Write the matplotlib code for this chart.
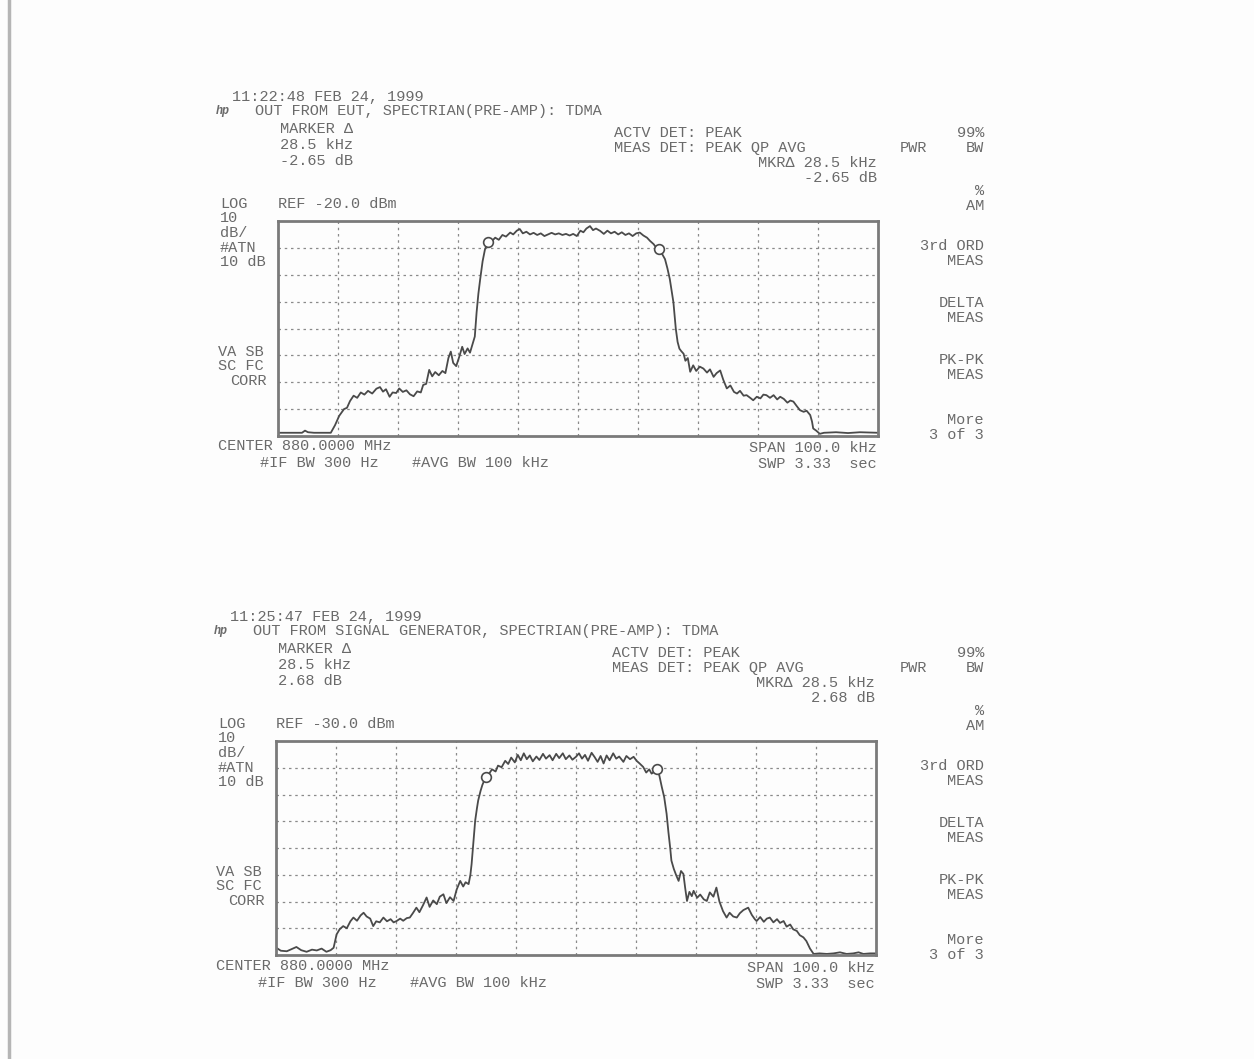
import matplotlib
matplotlib.use("Agg")
import matplotlib.pyplot as plt
from matplotlib.lines import Line2D

# screen dump of two spectrum analyser plots (HP, 1999)
W, H = 1254, 1059
MONO = "Liberation Mono"
TXT = "#6a6a6a"
FS = 11

# --- trace 1: out from EUT, ref -20 dBm ---
top_freq = [-50, -46, -45.5, -45, -44, -41.2, -40.5, -39.8, -39, -38.5, -38, -37.4, -36.8, -36.2,
            -35.6, -35, -34.3, -33.6, -33, -32.5, -32, -31.4, -30.9, -30.3, -29.8, -29.2, -28.6,
            -28, -27.4, -26.8, -26.2, -25.8, -25.3, -24.8, -24.3, -23.8, -23.2, -22.6, -22.1,
            -21.6, -21.2, -20.8, -20.3, -19.8, -19.3, -18.9, -18.4, -18, -17.6, -17.2, -16.9,
            -16.6, -16.3, -15.9, -15.5, -15.0, -14.4, -13.8, -13.2, -12.6, -12, -11.3, -10.8,
            -10.2, -9.7, -9.2, -8.6, -8, -7.4, -6.8, -6.2, -5.6, -5, -4.4, -3.8, -3.2, -2.6, -2,
            -1.4, -0.8, -0.2, 0.4, 0.9, 1.4, 2.0, 2.5, 3.0, 3.7, 4.3, 4.9, 5.5, 6.1, 6.7, 7.3,
            7.9, 8.5, 9.1, 9.7, 10.3, 10.9, 11.5, 12.0, 12.6, 13.0, 13.5, 14.0, 14.5, 14.9, 15.3,
            15.6, 15.9, 16.1, 16.3, 16.6, 16.9, 17.2, 17.6, 17.9, 18.3, 18.7, 19.2, 19.7, 20.3,
            20.9, 21.5, 22.0, 22.6, 23.1, 23.7, 24.2, 24.8, 25.4, 26.0, 26.5, 27.0, 27.6, 28.1,
            28.7, 29.2, 29.8, 30.4, 30.9, 31.4, 32.0, 32.6, 33.2, 33.7, 34.3, 34.9, 35.4, 35.9,
            36.5, 37.0, 37.6, 38.1, 38.7, 39.0, 39.2, 39.7, 40.3, 41, 43, 45, 47, 50]
top_level = [-98.8, -98.8, -98.0, -98.6, -98.8, -98.8, -96, -92.5, -90, -89.5, -87, -85, -85.8,
             -83.8, -84.6, -83.2, -84.2, -82.4, -81.8, -83.5, -82.6, -85.4, -83.8, -84, -82.3,
             -83.6, -83, -84.5, -85.2, -83.4, -83.8, -81, -80.6, -75.4, -77.8, -76.2, -77.4,
             -75.8, -76.6, -71, -68.6, -72.8, -74, -70.6, -66.8, -69.5, -67.4, -69, -66, -63,
             -54, -47, -41.6, -35, -30.5, -28.0, -27.6, -26.2, -27, -25.2, -25.8, -24.3, -25,
             -23.6, -23, -24.6, -24, -25, -24.4, -25.2, -24.6, -25.6, -25, -24.4, -25, -24.6,
             -25.2, -24.8, -25.4, -24.8, -25.6, -23.6, -24.2, -22.8, -21.9, -23.4, -22.8, -23.7,
             -24.8, -23.6, -24.6, -24.0, -25.0, -24.2, -25.2, -24.6, -25.6, -24.6, -24.3, -25.4,
             -26.2, -27.4, -28.6, -29.8, -30.6, -32.2, -34.2, -37.6, -41.6, -46, -50.2, -55,
             -60.1, -65, -67.5, -68.4, -69.4, -72, -71, -76.1, -73.7, -75.8, -74.2, -74.9, -76.4,
             -75.2, -78, -76.6, -75.6, -79, -82.3, -81.2, -83.6, -84.2, -83.2, -85, -84.8, -85.8,
             -86.7, -85.4, -86, -84.6, -84.8, -85.8, -84.8, -86.4, -85.4, -86.2, -87.6, -86.8,
             -87.2, -89, -90.4, -91, -90.6, -92.2, -94.6, -97.2, -98, -99.2, -98.8, -98.6, -98.9,
             -98.6, -98.8]
top_mkr_freq = [-15.0, 13.5]
top_mkr_level = [-28.0, -30.6]

# --- trace 2: out from signal generator, ref -30 dBm ---
bot_freq = [-50, -49.2, -48.2, -47.4, -46.6, -45.8, -44.9, -44, -43.2, -42.4, -41.6, -40.9, -40.4,
            -39.9, -39.4, -38.8, -38.2, -37.6, -37.1, -36.5, -35.9, -35.4, -34.9, -34.3, -33.8,
            -33.3, -32.7, -32.1, -31.5, -30.9, -30.4, -29.9, -29.3, -28.8, -28.2, -27.7, -27.2,
            -26.6, -26.1, -25.5, -24.9, -24.4, -23.8, -23.2, -22.7, -22.1, -21.6, -21.0, -20.4,
            -19.9, -19.3, -18.8, -18.4, -17.9, -17.6, -17.4, -17.1, -16.8, -16.5, -16.3, -15.9,
            -15.6, -15.0, -14.6, -14.0, -13.4, -13.0, -12.4, -11.8, -11.3, -10.8, -10.2, -9.7,
            -9.2, -8.7, -8.2, -7.7, -7.2, -6.6, -6.1, -5.5, -5.0, -4.4, -3.9, -3.3, -2.8, -2.2,
            -1.7, -1.1, -0.6, 0.0, 0.5, 1.0, 1.5, 2.0, 2.6, 3.1, 3.6, 4.1, 4.6, 5.1, 5.6, 6.2,
            6.7, 7.2, 7.9, 8.4, 9.0, 9.6, 10.1, 10.6, 11.2, 11.7, 12.2, 12.6, 13.1, 13.5, 13.9,
            14.3, 14.7, 15.1, 15.4, 15.7, 15.9, 16.3, 16.7, 17.1, 17.5, 17.9, 18.2, 18.5, 18.9,
            19.3, 19.6, 20.2, 20.7, 21.3, 21.8, 22.3, 22.9, 23.4, 23.9, 24.5, 25.1, 25.6, 26.2,
            26.8, 27.3, 27.9, 28.7, 29.3, 29.8, 30.1, 30.7, 31.3, 31.8, 32.3, 32.9, 33.5, 34.0,
            34.6, 35.1, 35.7, 36.2, 36.8, 37.3, 37.9, 38.4, 39.0, 39.6, 40.6, 41.8, 42.9, 44,
            45.1, 46.2, 47.1, 47.9, 49, 50]
bot_level = [-107.2, -108.4, -108.6, -107.8, -107, -108.2, -108.8, -108, -108.3, -107.6, -108.8,
             -108.2, -107.3, -102.3, -100.4, -99.2, -100, -97.4, -96, -97.2, -95.2, -94.2, -95.6,
             -96.4, -99.2, -97.4, -97.8, -96, -97.4, -96.6, -97.8, -97.3, -96.4, -97.2, -96.2,
             -96, -94.4, -92.3, -94, -91.4, -88.5, -92, -89.6, -91, -88.2, -87.3, -90.6, -88.4,
             -89.8, -85.6, -82.3, -84.4, -82.8, -83.5, -80, -76, -68, -59.7, -55, -52.2, -48.6,
             -46.4, -43.3, -42.6, -40.6, -41.4, -39.2, -39.8, -37.4, -38.6, -36.2, -38, -35.2,
             -37.2, -34.6, -36.8, -35.4, -37.6, -35.8, -37.1, -34.8, -36.6, -35.3, -37.2, -34.8,
             -36.4, -34.6, -36.8, -35.4, -37, -35.9, -34.6, -36.6, -35.2, -37.4, -34.4, -36,
             -37.8, -35.6, -38.4, -35.4, -37.2, -34.6, -36.6, -35.8, -37.8, -35.6, -36.8, -35.9,
             -37.4, -38.4, -39.7, -41.8, -40.6, -42.2, -41.4, -40.6, -43, -47.2, -51, -57.2, -64,
             -70, -74.7, -77.8, -80.2, -82.3, -78.6, -79.7, -85, -89.8, -86.4, -88, -86, -88.6,
             -87.4, -89.2, -89.8, -86.6, -88.2, -84.8, -90, -93.6, -96, -94.2, -95.6, -96, -94.4,
             -93.2, -92.3, -95, -96.6, -97.3, -95.8, -97.6, -96.4, -96, -97.8, -96.6, -98, -97.3,
             -99.4, -98.6, -100.4, -101, -102.6, -103.4, -104.8, -107.6, -109.6, -109.4, -109.6,
             -109.4, -109.0, -109.6, -109.4, -109.0, -109.6, -109.4, -109.4]
bot_mkr_freq = [-15.0, 13.5]
bot_mkr_level = [-43.3, -40.6]

panels = [
    dict(freq=top_freq, level=top_level, mf=top_mkr_freq, ml=top_mkr_level, ref=-20.0,
         date="11:22:48 FEB 24, 1999",
         title="OUT FROM EUT, SPECTRIAN(PRE-AMP): TDMA",
         delta="-2.65 dB", dx=0, dy=0, box=(278, 221, 878, 436)),
    dict(freq=bot_freq, level=bot_level, mf=bot_mkr_freq, ml=bot_mkr_level, ref=-30.0,
         date="11:25:47 FEB 24, 1999",
         title="OUT FROM SIGNAL GENERATOR, SPECTRIAN(PRE-AMP): TDMA",
         delta="2.68 dB", dx=-2, dy=520, box=(276, 741, 876, 955)),
]

fig = plt.figure(figsize=(W / 100, H / 100), dpi=100, facecolor="#fdfdfd")

# edge of the scanned page
fig.add_artist(Line2D([9 / W, 9 / W], [0, 1], color="#b5b5b5", lw=2.5))


def put(x, y, s, ha="left", size=FS, **kw):
    fig.text(x / W, 1 - y / H, s, ha=ha, va="center", fontsize=size,
             family=MONO, color=TXT, **kw)


for p in panels:
    x0, y0, x1, y1 = p["box"]
    ax = fig.add_axes([x0 / W, 1 - y1 / H, (x1 - x0) / W, (y1 - y0) / H])
    ref = p["ref"]
    ax.set_xlim(-50, 50)
    ax.set_ylim(ref - 80, ref)
    ax.set_xticks(range(-40, 50, 10))
    ax.set_yticks([ref - 10 * k for k in range(1, 8)])
    ax.tick_params(length=0, labelbottom=False, labelleft=False)
    ax.grid(True, color="#8a8a8a", lw=0.9, linestyle=(0, (2, 3)))
    ax.set_facecolor("#fdfdfd")
    for s in ax.spines.values():
        s.set_color("#7a7a7a")
        s.set_linewidth(2.0)
    ax.plot(p["freq"], p["level"], color="#4a4a4a", lw=1.3)
    ax.plot(p["mf"], p["ml"], "o", ms=7, mfc="#fdfdfd", mec="#4a4a4a", mew=1.2)

    dx, dy = p["dx"], p["dy"]
    # header
    put(232 + dx, 97 + dy, p["date"])
    put(216 + dx, 111 + dy, "hp", size=8.5, style="italic", weight="bold")
    put(255 + dx, 111.5 + dy, p["title"])
    put(280 + dx, 129 + dy, "MARKER Δ")
    put(280 + dx, 145 + dy, "28.5 kHz")
    put(280 + dx, 161 + dy, p["delta"])
    put(614 + dx, 133 + dy, "ACTV DET: PEAK")
    put(614 + dx, 148 + dy, "MEAS DET: PEAK QP AVG")
    put(877 + dx, 163 + dy, "MKRΔ 28.5 kHz", ha="right")
    put(877 + dx, 178 + dy, p["delta"], ha="right")
    # softkey column
    put(984, 133 + dy, "99%", ha="right")
    put(900, 148 + dy, "PWR")
    put(984, 148 + dy, "BW", ha="right")
    put(984, 191 + dy, "%", ha="right")
    put(984, 206 + dy, "AM", ha="right")
    for yy, a, b in [(246, "3rd ORD", "MEAS"), (303, "DELTA", "MEAS"),
                     (360, "PK-PK", "MEAS"), (420, "More", "3 of 3")]:
        put(984, yy + dy, a, ha="right")
        put(984, yy + 15 + dy, b, ha="right")
    # left annotations
    put(220 + dx, 204 + dy, "LOG")
    put(278 + dx, 204 + dy, "REF %.1f dBm" % ref)
    put(220 + dx, 218.5 + dy, "10")
    put(220 + dx, 233 + dy, "dB/")
    put(220 + dx, 247.5 + dy, "#ATN")
    put(220 + dx, 262 + dy, "10 dB")
    put(218 + dx, 352 + dy, "VA SB")
    put(218 + dx, 366.5 + dy, "SC FC")
    put(230 + dx, 381 + dy, "CORR")
    # footer
    put(218 + dx, 446 + dy, "CENTER 880.0000 MHz")
    put(260 + dx, 463 + dy, "#IF BW 300 Hz")
    put(412 + dx, 463 + dy, "#AVG BW 100 kHz")
    put(877 + dx, 448 + dy, "SPAN 100.0 kHz", ha="right")
    put(877 + dx, 464 + dy, "SWP 3.33  sec", ha="right")

fig.savefig("out.png", dpi=100, facecolor=fig.get_facecolor())
